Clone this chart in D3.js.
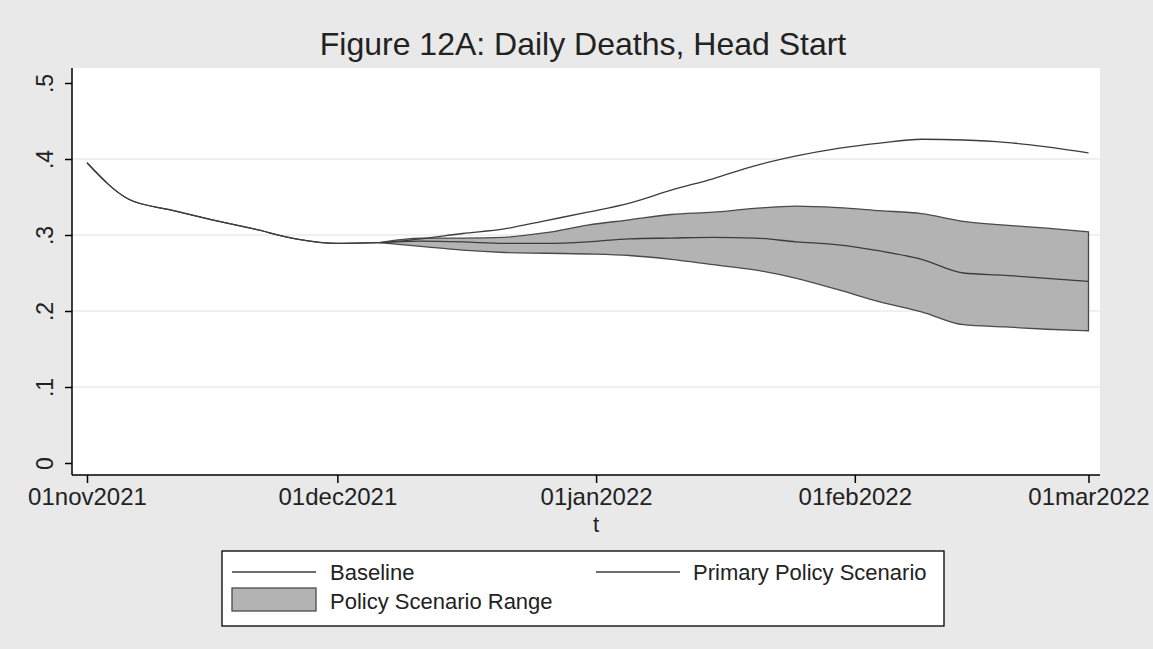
<!DOCTYPE html>
<html>
<head>
<meta charset="utf-8">
<script src="https://cdn.jsdelivr.net/npm/d3@7"></script>
<style>
  body { margin: 0; background: #e9e9e9; }
  svg { display: block; font-family: "Liberation Sans", Arial, sans-serif; }
</style>
</head>
<body>
<svg id="chart" width="1153" height="649"></svg>
<script>
// days after 01nov2021, every 5 days up to 01mar2022
const dayOffsets = [0, 5, 10, 15, 20, 25, 30, 35, 40, 45, 50, 55, 60,
  65, 70, 75, 80, 85, 90, 95, 100, 105, 110, 115, 120];

const baseline = [.395, .347, .333, .320, .308, .295, .289, .290, .295, .302, .308, .319, .330,
  .342, .359, .374, .391, .404, .414, .421, .426, .425, .422, .416, .408];
const primary = [.395, .347, .333, .320, .308, .295, .289, .290, .292, .291, .289, .289, .291,
  .295, .296, .297, .296, .291, .287, .279, .268, .250, .247, .243, .239];
const rangeHigh = [.395, .347, .333, .320, .308, .295, .289, .290, .296, .296, .297, .303, .313,
  .320, .327, .330, .335, .338, .336, .332, .328, .318, .313, .309, .304];
const rangeLow = [.395, .347, .333, .320, .308, .295, .289, .290, .285, .280, .277, .276, .275,
  .273, .268, .261, .254, .243, .228, .212, .199, .182, .179, .176, .174];

const yTicks = [0, .1, .2, .3, .4, .5];
const xTickDates = ["2021-11-01", "2021-12-01", "2022-01-01", "2022-02-01", "2022-03-01"];
const bandStart = 7; // index where the policy scenarios split from baseline

const svg = d3.select("#chart");
const startDate = new Date(2021, 10, 1);
const dates = dayOffsets.map(d => d3.timeDay.offset(startDate, d));

// plot region
const plot = {left: 72, right: 1100, top: 68, bottom: 475};

let x = d3.scaleTime()
    .domain([new Date(2021, 10, 1), new Date(2022, 2, 1)])
    .range([87, 1088.5]);
let y = d3.scaleLinear()
    .domain([0, .5])
    .range([463, 83]);

svg.append("rect")
    .attr("x", plot.left).attr("y", plot.top)
    .attr("width", plot.right - plot.left)
    .attr("height", plot.bottom - plot.top)
    .attr("fill", "#ffffff");

// grid lines (Stata leaves the end ones out)
svg.append("g")
    .selectAll("line")
    .data(yTicks.filter(t => t > 0 && t < .5))
    .join("line")
    .attr("x1", plot.left).attr("x2", plot.right)
    .attr("y1", d => y(d)).attr("y2", d => y(d))
    .attr("stroke", "#e0e0e0")
    .attr("stroke-width", 1);

let rows = dates.map((d, i) => ({
    date: d, base: baseline[i], prim: primary[i], hi: rangeHigh[i], lo: rangeLow[i]
}));
let bandRows = rows.slice(bandStart);

// band
let area = d3.area()
    .x(d => x(d.date))
    .y0(d => y(d.lo))
    .y1(d => y(d.hi))
    .curve(d3.curveMonotoneX);
svg.append("path")
    .datum(bandRows)
    .attr("d", area)
    .attr("fill", "#b3b3b3")
    .attr("stroke", "#4a4a4a")
    .attr("stroke-width", 1.3);

function drawLine(data, key) {
    let line = d3.line()
        .x(d => x(d.date))
        .y(d => y(d[key]))
        .curve(d3.curveMonotoneX);
    svg.append("path")
        .datum(data)
        .attr("d", line)
        .attr("fill", "none")
        .attr("stroke", "#3c3c3c")
        .attr("stroke-width", 1.3);
}
drawLine(rows, "base");
drawLine(rows, "prim");

// y axis
let yAxis = d3.axisLeft(y)
    .tickValues(yTicks)
    .tickSize(7)
    .tickFormat(d => d === 0 ? "0" : d3.format(".1f")(d).replace(/^0/, ""));
let yG = svg.append("g")
    .attr("transform", "translate(" + plot.left + ",0)")
    .call(yAxis);
yG.select(".domain").attr("d", "M0," + plot.top + "V" + plot.bottom).attr("stroke", "#000").attr("stroke-width", 1.5);
yG.selectAll(".tick line").attr("stroke", "#000").attr("stroke-width", 1.5);
yG.selectAll(".tick text")
    .attr("font-size", 23)
    .attr("fill", "#222")
    .attr("text-anchor", "middle")
    .attr("x", 0).attr("dy", 0)
    .attr("transform", "translate(-19,0) rotate(-90)");

// x axis
let xAxis = d3.axisBottom(x)
    .tickValues(xTickDates.map(s => d3.timeParse("%Y-%m-%d")(s)))
    .tickSize(8)
    .tickFormat(d => d3.timeFormat("%d%b%Y")(d).toLowerCase());
let xG = svg.append("g")
    .attr("transform", "translate(0," + plot.bottom + ")")
    .call(xAxis);
xG.select(".domain").attr("d", "M" + plot.left + ",0H" + plot.right).attr("stroke", "#000").attr("stroke-width", 1.5);
xG.selectAll(".tick line").attr("stroke", "#000").attr("stroke-width", 1.5);
xG.selectAll(".tick text")
    .attr("font-size", 24)
    .attr("fill", "#222")
    .attr("y", 13);

svg.append("text")
    .attr("x", x(new Date(2022, 0, 1)))
    .attr("y", 532)
    .attr("text-anchor", "middle")
    .attr("font-size", 22)
    .attr("fill", "#222")
    .text("t");

// title
svg.append("text")
    .attr("x", 583)
    .attr("y", 55)
    .attr("text-anchor", "middle")
    .attr("font-size", 32)
    .attr("fill", "#222")
    .text("Figure 12A: Daily Deaths, Head Start");

// legend
let legend = svg.append("g");
legend.append("rect")
    .attr("x", 222).attr("y", 551)
    .attr("width", 722).attr("height", 75)
    .attr("fill", "#ffffff")
    .attr("stroke", "#000")
    .attr("stroke-width", 1.3);
legend.append("line")
    .attr("x1", 232).attr("x2", 316).attr("y1", 572).attr("y2", 572)
    .attr("stroke", "#3c3c3c").attr("stroke-width", 1.3);
legend.append("line")
    .attr("x1", 596).attr("x2", 680).attr("y1", 572).attr("y2", 572)
    .attr("stroke", "#3c3c3c").attr("stroke-width", 1.3);
legend.append("rect")
    .attr("x", 232).attr("y", 588).attr("width", 84).attr("height", 23)
    .attr("fill", "#b3b3b3").attr("stroke", "#4a4a4a").attr("stroke-width", 1.3);
let legendText = [
    {label: "Baseline", x: 330, y: 580},
    {label: "Primary Policy Scenario", x: 693, y: 580},
    {label: "Policy Scenario Range", x: 330, y: 609}
];
legend.selectAll("text.lbl")
    .data(legendText)
    .join("text")
    .attr("class", "lbl")
    .attr("x", d => d.x).attr("y", d => d.y)
    .attr("font-size", 22)
    .attr("fill", "#222")
    .text(d => d.label);
</script>
</body>
</html>
